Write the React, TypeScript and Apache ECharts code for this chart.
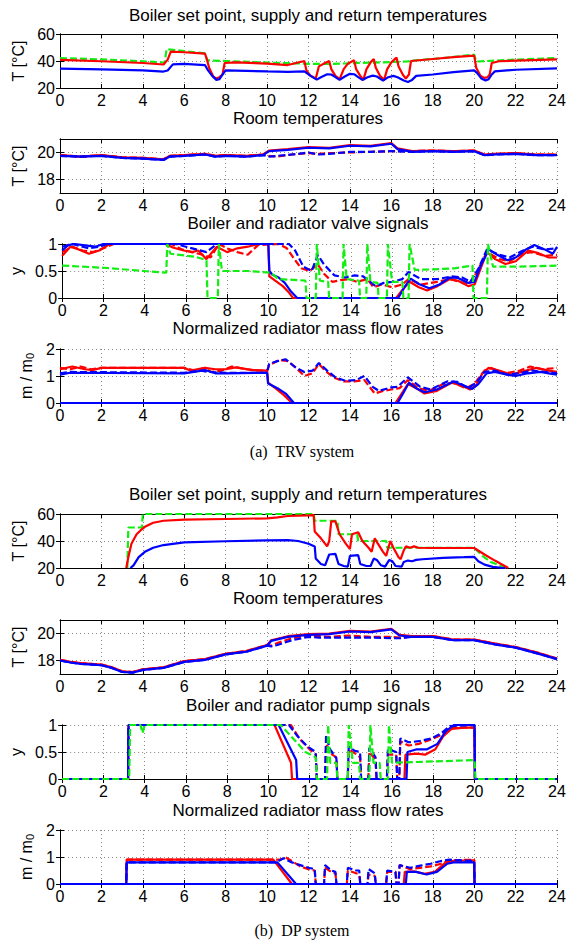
import React, { useEffect, useRef } from 'react';
import * as echarts from 'echarts';

type P = [number, number][];

// ---------- (a) TRV system ----------
const trvSetpoint: P = [[0,42.2],[2,41.2],[4,39.8],[5.05,38.8],[5.15,48.8],[6,47.3],[7,45.6],[7.1,40.5],[8,40],[10,38.8],[11.5,38.2],[12,37.8],[13,37.8],[14,38.3],[15,38.8],[16,39.2],[16.8,39.7],[17,40.3],[18,41.5],[19,43],[20,44.8],[20.1,39.6],[21,40.3],[22,41],[23,41.6],[24,42.2]];
const trvSupply: P = [[0,40.8],[2,39.8],[4,38.5],[5.0,37.4],[5.2,41],[5.35,47],[6,46.5],[7,45.5],[7.08,42],[7.2,35],[7.4,28.5],[7.55,27],[7.7,28],[7.85,30],[7.95,38.5],[8.5,39],[10,38],[11,37],[11.8,40],[11.9,33],[12.1,29],[12.35,27],[12.5,36],[12.8,38.5],[13.0,40],[13.1,34],[13.3,29],[13.5,26.5],[13.7,34],[13.9,38],[14.2,40.5],[14.3,34],[14.5,29],[14.65,26],[14.8,34],[15.0,39],[15.15,41.5],[15.25,35],[15.45,29],[15.65,26],[15.8,34],[16.0,39],[16.25,42.5],[16.35,36],[16.55,30],[16.7,27],[16.85,30],[16.95,40],[18,41.5],[19,42.8],[20,44],[20.1,35],[20.3,29],[20.5,27.5],[20.65,28],[20.75,30],[20.85,38.5],[21.2,39.8],[22,40.3],[24,41.2]];
const trvReturn: P = [[0,34.4],[2,33.8],[4,33],[5,32.2],[5.2,33],[5.45,37.5],[6,37.8],[7,37],[7.15,33],[7.35,29],[7.55,26],[7.7,26.5],[7.85,30],[8,33],[9,32.7],[10,32.3],[11,32],[11.8,32.3],[12.1,29],[12.4,26.2],[12.6,28],[12.9,30.2],[13.1,30],[13.3,28],[13.5,26],[13.75,28.5],[14.0,30.5],[14.2,30.2],[14.4,28],[14.6,26],[14.85,28],[15.1,29.2],[15.3,28.5],[15.6,25.5],[15.85,28],[16.1,29],[16.3,28],[16.6,25.5],[16.8,24.5],[17.0,26],[17.2,29],[18,30],[19,31.8],[20,33],[20.15,31],[20.35,27],[20.55,25.5],[20.7,26.5],[20.85,30],[21.0,32.3],[22,33.5],[24,34.5]];

const trvRoomRed: P = [[0,19.8],[0.5,19.75],[1,19.7],[2,19.8],[3,19.65],[4,19.6],[5,19.5],[5.3,19.75],[6,19.8],[7,19.9],[7.5,19.75],[8,19.8],[9,19.75],[9.8,19.85],[10.1,20.15],[11,20.25],[12,20.4],[13,20.35],[14,20.55],[15,20.5],[16,20.7],[16.3,20.3],[17,20.1],[18,20.15],[19,20.1],[20,20.15],[20.5,19.85],[21,19.9],[22,19.95],[23,19.85],[24,19.85]];
const trvRoomBlue: P = [[0,19.75],[1,19.7],[2,19.75],[3,19.6],[4,19.55],[5,19.45],[5.3,19.7],[6,19.75],[7,19.85],[7.5,19.7],[8,19.75],[9,19.7],[9.8,19.8],[10.1,20.1],[11,20.2],[12,20.35],[13,20.3],[14,20.5],[15,20.45],[16,20.65],[16.3,20.25],[17,20.05],[18,20.1],[19,20.05],[20,20.1],[20.5,19.8],[21,19.85],[22,19.9],[23,19.8],[24,19.8]];
const trvRoomRedDashMid: P = [[10.1,19.75],[10.5,19.7],[11.2,19.85],[12,19.95],[12.5,19.9],[13,19.95],[14,20.0],[15,20.05],[16,20.1],[16.3,20.1]];
const trvRoomBlueDashMid: P = [[10.1,19.7],[10.5,19.75],[11.5,19.9],[12,20.0],[12.5,19.85],[13,19.9],[14,20.05],[15,20.05],[16,20.1],[16.3,20.08]];

const trvValveRed: P = [[0,0.78],[0.4,0.95],[0.8,0.9],[1.3,0.82],[1.8,0.88],[2.3,1],[5,1],[5.4,0.93],[5.9,0.88],[6.3,0.85],[6.6,0.88],[7,0.72],[7.5,0.95],[8,0.85],[8.5,0.92],[9,0.95],[9.5,1],[10,1],[10.05,0.4],[10.3,0.33],[10.7,0.22],[11,0.1],[11.2,0],[16.2,0],[16.5,0.15],[16.85,0.3],[17.3,0.2],[17.7,0.14],[18.2,0.22],[18.8,0.35],[19.2,0.32],[19.7,0.22],[20,0.25],[20.3,0.55],[20.6,0.85],[21,0.72],[21.5,0.63],[22,0.68],[22.6,0.88],[23.1,0.83],[23.6,0.75],[24,0.75]];
const trvValveRedDash: P = [[0,0.85],[0.5,0.95],[1,0.88],[1.5,0.85],[2,0.92],[2.5,1],[5.3,1],[5.8,0.9],[6.3,0.85],[6.8,0.8],[7.2,0.75],[7.6,1],[8,0.92],[8.5,0.85],[9,0.8],[9.5,0.98],[10.5,1],[10.9,0.92],[11.3,0.7],[11.6,0.55],[12,0.5],[12.4,0.62],[12.7,0.45],[13.1,0.3],[13.5,0.33],[13.9,0.35],[14.3,0.3],[14.8,0.35],[15.1,0.2],[15.5,0.25],[16,0.2],[16.5,0.25],[16.8,0.35],[17.4,0.25],[18.2,0.3],[18.8,0.35],[19.3,0.3],[19.7,0.25],[20,0.4],[20.6,0.85],[21.2,0.72],[21.7,0.68],[22.3,0.82],[22.8,0.85],[23.4,0.78],[24,0.8]];
const trvValveBlue: P = [[0,0.88],[0.3,0.98],[0.6,1],[1.2,0.97],[1.6,0.95],[2,1],[10,1],[10.05,0.5],[10.2,0.43],[10.5,0.38],[10.8,0.28],[11.1,0.12],[11.4,0],[16.3,0],[16.6,0.2],[16.9,0.36],[17.3,0.26],[17.8,0.18],[18.3,0.25],[18.8,0.38],[19.2,0.37],[19.7,0.28],[20,0.3],[20.3,0.6],[20.7,0.9],[21.1,0.8],[21.6,0.7],[22,0.75],[22.5,0.9],[22.9,0.98],[23.4,0.9],[23.8,0.82],[24,0.95]];
const trvValveBlueDash: P = [[0,0.95],[0.5,1],[1.3,0.92],[1.8,0.95],[2.2,1],[5.5,1],[6,0.95],[6.5,0.9],[7,0.85],[7.5,1],[11,1],[11.3,0.88],[11.7,0.58],[12.1,0.5],[12.4,0.8],[12.7,0.62],[13.2,0.42],[13.7,0.38],[14.2,0.42],[14.6,0.4],[15.2,0.22],[15.6,0.28],[16,0.3],[16.5,0.35],[16.8,0.48],[17.4,0.35],[18.2,0.35],[18.9,0.4],[19.4,0.38],[19.8,0.3],[20.2,0.55],[20.6,0.9],[21.2,0.8],[21.7,0.75],[22.2,0.85],[22.8,0.95],[23.4,0.9],[24,0.92]];
const trvValveBoiler: P = [[0,0.6],[2,0.56],[4,0.5],[5.05,0.47],[5.1,1],[5.25,0.82],[6.5,0.76],[7.0,0.7],[7.05,0],[7.55,0],[7.6,1],[7.75,0.5],[9,0.5],[10.1,0.47],[10.5,0.35],[11.5,0.33],[11.8,0.32],[11.85,0],[12.3,0],[12.35,1],[12.5,0.32],[12.9,0.3],[12.95,0],[13.6,0],[13.65,1],[13.8,0.35],[14.4,0.32],[14.45,0],[14.75,0],[14.8,1],[14.95,0.3],[15.3,0.28],[15.35,0],[15.75,0],[15.8,1],[16,0.3],[16.5,0.3],[16.55,0],[16.8,0],[16.85,1],[17.1,0.52],[18,0.53],[19,0.55],[19.9,0.6],[19.95,0],[20.6,0],[20.65,1],[20.9,0.58],[22,0.58],[24,0.6]];

const trvFlowRed: P = [[0,1.25],[0.6,1.35],[1.2,1.25],[1.6,1.22],[2,1.3],[6,1.3],[6.3,1.2],[7,1.3],[7.5,1.25],[8,1.25],[8.5,1.32],[9.3,1.22],[10,1.2],[10.05,0.75],[10.4,0.55],[10.8,0.3],[11.2,0],[16.2,0],[16.5,0.35],[16.8,0.7],[17.2,0.55],[17.6,0.35],[18.2,0.45],[18.9,0.75],[19.4,0.65],[19.8,0.5],[20.1,0.65],[20.4,1.1],[20.7,1.3],[21.2,1.2],[21.8,1.05],[22.5,1.2],[23,1.3],[23.6,1.2],[24,1.15]];
const trvFlowRedDash: P = [[0,1.3],[0.5,1.25],[1,1.35],[1.5,1.25],[2,1.3],[6,1.3],[6.5,1.2],[7,1.3],[7.3,1.15],[7.8,1.2],[8.3,1.35],[9,1.25],[9.6,1.2],[10,1.2],[10.1,1.4],[10.6,1.6],[11,1.55],[11.4,1.3],[11.8,1.0],[12.2,1.1],[12.5,1.45],[12.8,1.2],[13.2,0.95],[13.7,0.8],[14.2,0.8],[14.7,0.85],[15.2,0.35],[15.6,0.45],[16,0.5],[16.4,0.55],[16.8,0.85],[17.3,0.55],[17.8,0.45],[18.5,0.7],[19,0.75],[19.6,0.55],[20,0.7],[20.5,1.2],[20.8,1.3],[21.5,1.1],[22.2,1.2],[22.7,1.35],[23.3,1.25],[24,1.3]];
const trvFlowBlue: P = [[0,1.05],[0.5,1.12],[6,1.1],[6.7,1.18],[7,1.22],[7.5,1.1],[8,1.1],[10,1.12],[10.05,0.72],[10.5,0.55],[10.9,0.35],[11.3,0],[16.3,0],[16.6,0.4],[16.85,0.75],[17.2,0.55],[17.6,0.4],[18.2,0.5],[19,0.8],[19.5,0.65],[19.9,0.52],[20.2,0.7],[20.6,1.1],[21,1.15],[21.6,1.05],[22,1.0],[22.6,1.1],[23.2,1.15],[23.6,1.1],[24,1.05]];
const trvFlowBlueDash: P = [[0,1.1],[0.5,1.15],[6,1.12],[6.8,1.2],[7.2,1.15],[8,1.12],[10,1.12],[10.1,1.45],[10.5,1.55],[10.9,1.62],[11.4,1.3],[11.8,1.15],[12.2,1.2],[12.5,1.48],[12.9,1.2],[13.3,0.95],[13.8,0.82],[14.3,0.85],[14.7,1.0],[15.1,0.6],[15.4,0.45],[16,0.58],[16.3,0.6],[16.8,0.95],[17.4,0.6],[17.9,0.5],[18.7,0.8],[19.2,0.78],[19.7,0.55],[20.1,0.75],[20.5,1.15],[21,1.2],[21.6,1.05],[22.2,1.1],[22.8,1.2],[23.4,1.15],[24,1.1]];
const zeroFlow: P = [[0,0],[24,0]];

// ---------- (b) DP system ----------
const dpSetpoint: P = [[3.25,20],[3.3,50],[3.95,50],[4.0,60],[12.25,60],[12.3,55],[13.4,55],[13.45,45],[14.35,45],[14.4,40],[15.75,40],[15.8,35],[20,35],[20.4,29],[20.8,24.5],[21.2,22],[21.6,20]];
const dpSupply: P = [[3.2,20],[3.3,28],[3.45,38],[3.7,45],[3.9,48],[4.1,50.5],[4.5,53.5],[5,55],[6,55.8],[8,56.3],[10,56.8],[10.5,57.5],[11,58.5],[12,59],[12.25,59.2],[12.3,47],[12.6,42],[12.9,36],[13.0,40],[13.1,54.5],[13.3,54.5],[13.5,45],[13.8,38],[14.0,34],[14.1,45],[14.4,46.5],[14.6,40],[14.9,35],[15.05,32],[15.2,42],[15.35,38],[15.6,32],[15.75,29],[15.95,40],[16.1,35],[16.35,28],[16.45,26.5],[16.6,33],[16.7,36],[16.9,35],[17.1,36],[17.3,35],[18,34.8],[20,34.8],[20.5,30],[21,25.5],[21.3,23],[21.65,20]];
const dpReturn: P = [[3.4,20],[3.55,22],[3.8,28],[4.1,32],[4.5,35],[5,37],[6,39],[8,39.8],[10,40.5],[11,40.6],[11.5,40],[12,38],[12.3,36],[12.35,27],[12.6,23],[12.8,22],[13.0,30],[13.3,30.5],[13.45,23],[13.7,21.5],[13.9,21],[14.0,29],[14.4,29.5],[14.5,23],[14.8,21.5],[15.0,21.5],[15.15,27],[15.3,26],[15.5,22],[15.7,21],[15.9,26],[16.05,25],[16.2,21.5],[16.5,21],[16.6,24.5],[16.8,25.5],[17,25],[17.2,26],[17.5,26.5],[18.5,27.5],[19.5,28],[20,28.3],[20.2,25],[20.5,22.5],[20.9,20.8],[21.3,20.2],[21.5,20]];

const dpRoomRed: P = [[0,18.05],[0.5,17.9],[1,17.8],[2,17.7],[2.5,17.5],[3,17.2],[3.5,17.15],[4,17.35],[5,17.5],[6,17.95],[7,18.1],[8,18.5],[9,18.7],[10,19.15],[10.2,19.5],[11,19.8],[12,19.95],[13,20.0],[14,20.2],[15,20.15],[16,20.35],[16.4,19.9],[17,19.8],[18,19.8],[19,19.55],[20,19.55],[21,19.25],[22,19.0],[23,18.6],[24,18.15]];
const dpRoomBlue: P = [[0,18.0],[0.5,17.85],[1,17.75],[2,17.65],[2.5,17.45],[3,17.15],[3.5,17.1],[4,17.3],[5,17.45],[6,17.9],[7,18.05],[8,18.45],[9,18.65],[10,19.1],[10.2,19.45],[11,19.75],[12,19.9],[13,19.95],[14,20.15],[15,20.1],[16,20.3],[16.4,19.85],[17,19.75],[18,19.75],[19,19.5],[20,19.5],[21,19.2],[22,18.95],[23,18.55],[24,18.1]];
const dpRoomRedDashMid: P = [[10.2,19.1],[10.5,19.3],[11.2,19.65],[12,19.85],[12.5,19.8],[13,19.75],[14,19.85],[15,19.75],[16,19.75],[16.5,19.7]];
const dpRoomBlueDashMid: P = [[10.2,19.05],[10.5,19.15],[11.2,19.5],[12,19.75],[12.5,19.7],[13,19.7],[14,19.7],[15,19.7],[16,19.65],[16.5,19.65]];

const dpPumpRed: P = [[0,0],[3.2,0],[3.22,1],[10.3,1],[11.1,0.3],[11.15,0],[16.6,0],[16.65,0.45],[17.2,0.47],[17.6,0.45],[18.1,0.55],[18.5,0.8],[18.9,0.93],[19.5,0.95],[20,0.95],[20.02,0],[24,0]];
const dpPumpRedDash: P = [[0,0],[3.2,0],[3.22,1],[11.1,1],[11.5,0.75],[12,0.55],[12.3,0.45],[12.35,0],[12.75,0],[12.8,0.65],[13.1,0.45],[13.3,0.4],[13.35,0],[13.85,0],[13.9,0.55],[14.3,0.45],[14.45,0.4],[14.5,0],[14.85,0],[14.9,0.5],[15.2,0.35],[15.25,0],[15.75,0],[15.8,0.45],[16.2,0.45],[16.25,0],[16.35,0],[16.4,0.7],[16.8,0.62],[17.3,0.65],[17.8,0.72],[18.3,0.8],[18.8,0.95],[20,0.95],[20.02,0],[24,0]];
const dpPumpBlue: P = [[0,0],[3.2,0],[3.22,1],[10.5,1],[11.35,0.35],[11.4,0],[16.7,0],[16.75,0.5],[17.2,0.55],[17.7,0.55],[18.2,0.65],[18.6,0.88],[19,1],[20,1],[20.02,0],[24,0]];
const dpPumpBlueDash: P = [[0,0],[3.2,0],[3.22,1],[11,1],[11.4,0.8],[11.9,0.6],[12.3,0.5],[12.35,0],[12.75,0],[12.8,0.8],[13.0,0.55],[13.3,0.38],[13.35,0],[13.85,0],[13.9,0.6],[14.2,0.52],[14.45,0.5],[14.5,0],[14.85,0],[14.9,0.58],[15.2,0.4],[15.25,0],[15.75,0],[15.8,0.55],[16.2,0.5],[16.25,0],[16.35,0],[16.4,0.75],[16.8,0.68],[17.3,0.7],[17.9,0.75],[18.4,0.85],[18.8,0.98],[20,1],[20.02,0],[24,0]];
const dpPumpBoiler: P = [[0,0],[3.25,0],[3.3,1],[3.8,1],[3.9,0.85],[4,1],[10.6,1],[11.8,0.5],[12.3,0.4],[12.35,0],[12.85,0],[12.9,1],[13.0,0.3],[13.3,0.3],[13.35,0],[13.85,0],[13.9,1],[14.1,0.3],[14.4,0.3],[14.45,0],[14.9,0],[14.95,1],[15.1,0.3],[15.4,0.3],[15.45,0],[15.8,0],[15.85,1],[16.0,0.3],[20,0.35],[20.05,0],[24,0]];

const dpFlowRed: P = [[0,0],[3.2,0],[3.22,0.9],[10.3,0.9],[11.2,0],[16.6,0],[16.65,0.45],[17.1,0.47],[17.6,0.38],[18.1,0.45],[18.6,0.78],[19,0.86],[20,0.88],[20.02,0],[24,0]];
const dpFlowRedDash: P = [[0,0],[3.2,0],[3.22,0.9],[10.6,0.9],[10.9,0.98],[11.2,0.85],[11.6,0.65],[12,0.55],[12.3,0.5],[12.35,0],[12.75,0],[12.8,0.6],[13.1,0.45],[13.3,0.4],[13.35,0],[13.85,0],[13.9,0.5],[14.3,0.4],[14.45,0.35],[14.5,0],[14.85,0],[14.9,0.35],[15.2,0.3],[15.25,0],[15.75,0],[15.8,0.45],[16.2,0.45],[16.25,0],[16.35,0],[16.4,0.7],[16.9,0.55],[17.4,0.6],[17.9,0.65],[18.4,0.75],[18.8,0.88],[20,0.9],[20.02,0],[24,0]];
const dpFlowBlue: P = [[0,0],[3.2,0],[3.22,0.8],[10.5,0.8],[11.4,0],[16.7,0],[16.75,0.45],[17.2,0.45],[17.7,0.35],[18.2,0.45],[18.7,0.75],[19,0.8],[20,0.8],[20.02,0],[24,0]];
const dpFlowBlueDash: P = [[0,0],[3.2,0],[3.22,0.8],[10.4,0.8],[10.8,0.95],[11.2,0.8],[11.6,0.7],[12,0.6],[12.3,0.55],[12.35,0],[12.75,0],[12.8,0.7],[13.1,0.5],[13.3,0.45],[13.35,0],[13.85,0],[13.9,0.6],[14.3,0.5],[14.45,0.5],[14.5,0],[14.85,0],[14.9,0.55],[15.2,0.4],[15.25,0],[15.75,0],[15.8,0.5],[16.2,0.45],[16.25,0],[16.35,0],[16.4,0.7],[16.9,0.6],[17.4,0.68],[17.9,0.75],[18.4,0.85],[18.8,0.9],[20,0.85],[20.02,0],[24,0]];

const panelTitles = [
  'Boiler set point, supply and return temperatures',
  'Room temperatures',
  'Boiler and radiator valve signals',
  'Normalized radiator mass flow rates',
  'Boiler set point, supply and return temperatures',
  'Room temperatures',
  'Boiler and radiator pump signals',
  'Normalized radiator mass flow rates',
];
const captions = ['(a)  TRV system', '(b)  DP system'];
const xTicks = { min: 0, max: 24, interval: 2 };

// layout
const gridTops = [34, 139, 244, 349, 514, 620, 725, 830];
const gridH = 54;
const titleYs = [15, 118, 223, 328, 494, 598, 705, 810];
const captionYs = [451, 930];

const RED = '#ff0000';
const BLUE = '#0000ff';
const GREEN = '#11ee11';
const SANS = '"Liberation Sans", Arial, Helvetica, sans-serif';
const SERIF = '"Liberation Serif", "Times New Roman", serif';

type S = { data: P; color: string; dashed: boolean };
type Panel = { yMin: number; yMax: number; yInterval?: number; yCustom?: number[]; yName: string; series: S[] };

const before = (d: P, t: number) => d.filter((p) => p[0] < t);
const after = (d: P, t: number) => d.filter((p) => p[0] > t);

const panels: Panel[] = [
  { yMin: 20, yMax: 60, yInterval: 20, yName: 'T [°C]', series: [
    { data: trvSetpoint, color: GREEN, dashed: true },
    { data: trvSupply, color: RED, dashed: false },
    { data: trvReturn, color: BLUE, dashed: false },
  ] },
  { yMin: 17, yMax: 21, yCustom: [18, 20], yName: 'T [°C]', series: [
    { data: trvRoomRed, color: RED, dashed: false },
    { data: [...before(trvRoomRed, 10), ...trvRoomRedDashMid, ...after(trvRoomRed, 16.8)], color: RED, dashed: true },
    { data: trvRoomBlue, color: BLUE, dashed: false },
    { data: [...before(trvRoomBlue, 10), ...trvRoomBlueDashMid, ...after(trvRoomBlue, 16.8)], color: BLUE, dashed: true },
  ] },
  { yMin: 0, yMax: 1, yInterval: 0.5, yName: 'y', series: [
    { data: trvValveRed, color: RED, dashed: false },
    { data: trvValveRedDash, color: RED, dashed: true },
    { data: trvValveBlue, color: BLUE, dashed: false },
    { data: trvValveBlueDash, color: BLUE, dashed: true },
    { data: trvValveBoiler, color: GREEN, dashed: true },
  ] },
  { yMin: 0, yMax: 2, yInterval: 1, yName: 'm / m{sub|0}', series: [
    { data: trvFlowRed, color: RED, dashed: false },
    { data: trvFlowRedDash, color: RED, dashed: true },
    { data: trvFlowBlue, color: BLUE, dashed: false },
    { data: trvFlowBlueDash, color: BLUE, dashed: true },
    { data: zeroFlow, color: BLUE, dashed: false },
  ] },
  { yMin: 20, yMax: 60, yInterval: 20, yName: 'T [°C]', series: [
    { data: dpSetpoint, color: GREEN, dashed: true },
    { data: dpSupply, color: RED, dashed: false },
    { data: dpReturn, color: BLUE, dashed: false },
  ] },
  { yMin: 17, yMax: 21, yCustom: [18, 20], yName: 'T [°C]', series: [
    { data: dpRoomRed, color: RED, dashed: false },
    { data: [...before(dpRoomRed, 10.1), ...dpRoomRedDashMid, ...after(dpRoomRed, 16.9)], color: RED, dashed: true },
    { data: dpRoomBlue, color: BLUE, dashed: false },
    { data: [...before(dpRoomBlue, 10.1), ...dpRoomBlueDashMid, ...after(dpRoomBlue, 16.9)], color: BLUE, dashed: true },
  ] },
  { yMin: 0, yMax: 1, yInterval: 0.5, yName: 'y', series: [
    { data: dpPumpRed, color: RED, dashed: false },
    { data: dpPumpRedDash, color: RED, dashed: true },
    { data: dpPumpBlue, color: BLUE, dashed: false },
    { data: dpPumpBlueDash, color: BLUE, dashed: true },
    { data: dpPumpBoiler, color: GREEN, dashed: true },
  ] },
  { yMin: 0, yMax: 2, yInterval: 1, yName: 'm / m{sub|0}', series: [
    { data: dpFlowRed, color: RED, dashed: false },
    { data: dpFlowRedDash, color: RED, dashed: true },
    { data: dpFlowBlue, color: BLUE, dashed: false },
    { data: dpFlowBlueDash, color: BLUE, dashed: true },
    { data: zeroFlow, color: BLUE, dashed: false },
  ] },
];

function buildOption(): any {
  const grid: any[] = [];
  const xAxis: any[] = [];
  const yAxis: any[] = [];
  const series: any[] = [];
  const lineBlack = { show: true, lineStyle: { color: '#000', width: 1 } };
  const tickIn = { show: true, inside: true, length: 4, lineStyle: { color: '#000', width: 1 } };
  const grid2 = { show: true, lineStyle: { color: '#8a8a8a', width: 1, type: [1, 3] } };

  panels.forEach((p, i) => {
    grid.push({ left: 60, right: 14, top: gridTops[i], height: gridH });
    xAxis.push({
      gridIndex: i, type: 'value', position: 'bottom', ...xTicks,
      axisLine: lineBlack, axisTick: tickIn, splitLine: grid2,
      axisLabel: { color: '#000', fontSize: 16, fontFamily: SANS, margin: 4, hideOverlap: false },
    });
    xAxis.push({
      gridIndex: i, type: 'value', position: 'top', ...xTicks,
      axisLine: lineBlack, axisTick: tickIn, splitLine: { show: false }, axisLabel: { show: false },
    });
    const yBase: any = { gridIndex: i, type: 'value', min: p.yMin, max: p.yMax };
    if (p.yInterval !== undefined) yBase.interval = p.yInterval;
    const custom = p.yCustom;
    yAxis.push({
      ...yBase, position: 'left',
      axisLine: lineBlack,
      axisTick: custom ? { ...tickIn, customValues: custom } : tickIn,
      splitLine: grid2,
      axisLabel: { color: '#000', fontSize: 16, fontFamily: SANS, margin: 5, showMinLabel: true, showMaxLabel: true, ...(custom ? { customValues: custom } : {}) },
      name: p.yName, nameLocation: 'middle', nameGap: 25,
      nameTextStyle: {
        color: '#000', fontSize: 16, fontFamily: SANS,
        rich: { sub: { fontSize: 11, fontFamily: SANS, color: '#000', verticalAlign: 'bottom', padding: [7, 0, 0, 0] } },
      },
    });
    yAxis.push({
      ...yBase, position: 'right',
      axisLine: lineBlack,
      axisTick: custom ? { ...tickIn, customValues: custom } : tickIn,
      splitLine: { show: false }, axisLabel: { show: false },
    });
    p.series.forEach((s) => {
      series.push({
        type: 'line', xAxisIndex: 2 * i, yAxisIndex: 2 * i, data: s.data,
        showSymbol: false, symbol: 'none', silent: true,
        lineStyle: { color: s.color, width: 2.2, type: s.dashed ? [7, 3] : 'solid' },
        itemStyle: { color: s.color },
      });
    });
  });

  const graphic: any[] = [];
  panelTitles.forEach((t, i) => {
    graphic.push({
      type: 'text', x: 308, y: titleYs[i], silent: true,
      style: { text: t, fill: '#000', fontSize: 17, fontFamily: SANS, align: 'center', verticalAlign: 'middle' },
    });
  });
  captions.forEach((t, i) => {
    graphic.push({
      type: 'text', x: 302, y: captionYs[i], silent: true,
      style: { text: t, fill: '#000', fontSize: 16, fontFamily: SERIF, align: 'center', verticalAlign: 'middle' },
    });
  });

  return { animation: false, backgroundColor: '#fff', grid, xAxis, yAxis, series, graphic };
}

export default function App() {
  const ref = useRef<HTMLDivElement>(null);
  useEffect(() => {
    document.body.style.margin = '0';
    const chart = echarts.init(ref.current!, null, { renderer: 'svg' });
    chart.setOption(buildOption());
    return () => chart.dispose();
  }, []);
  return <div ref={ref} style={{ width: 571, height: 944 }} />;
}
